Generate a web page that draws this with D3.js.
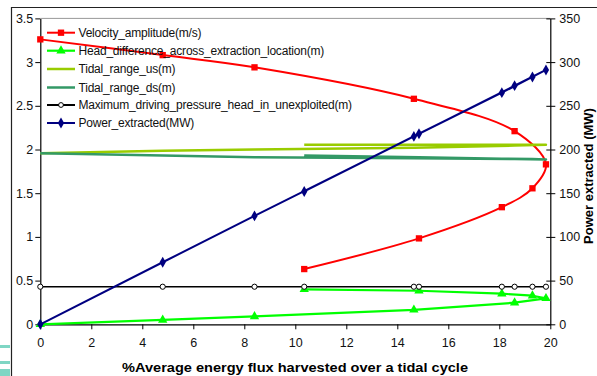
<!DOCTYPE html>
<html><head><meta charset="utf-8">
<script src="https://cdn.jsdelivr.net/npm/d3@7/dist/d3.min.js"></script>
<style>
body{margin:0;background:#fff;}
svg{display:block;font-family:"Liberation Sans",Arial,sans-serif;}
</style></head>
<body><svg id="c" width="597" height="376"></svg>
<script>
// ---- data (path order as plotted) ----
const fluxPct      = [0, 4.8, 8.4, 14.65, 18.6, 19.83, 19.3, 18.1, 14.85, 10.35];
const velocity     = [3.26, 3.08, 2.94, 2.58, 2.21, 1.83, 1.556, 1.34, 0.983, 0.632];
const headDiff     = [0, 0.05, 0.09, 0.165, 0.247, 0.297, 0.327, 0.35, 0.384, 0.40];
const tidalUs      = [1.956, 1.986, 2.0, 2.02, 2.045, 2.054, 2.054, 2.054, 2.054, 2.054];
const tidalDs      = [1.956, 1.93, 1.912, 1.90, 1.89, 1.887, 1.89, 1.895, 1.91, 1.93];
const maxHead      = [0.43, 0.43, 0.43, 0.43, 0.43, 0.43, 0.43, 0.43, 0.43, 0.43];
const power        = [0, 71, 124, 215, 273, 291, 283, 265, 218, 152];
const xTicks       = [0, 2, 4, 6, 8, 10, 12, 14, 16, 18, 20];
const yLeftTicks   = [0, 0.5, 1, 1.5, 2, 2.5, 3, 3.5];
const yRightTicks  = [0, 50, 100, 150, 200, 250, 300, 350];
const seriesNames  = ["Velocity_amplitude(m/s)", "Head_difference_across_extraction_location(m)",
  "Tidal_range_us(m)", "Tidal_range_ds(m)", "Maximum_driving_pressure_head_in_unexploited(m)", "Power_extracted(MW)"];
const xTitle = "%Average energy flux harvested over a tidal cycle";
const yRightTitle = "Power extracted (MW)";

const svg = d3.select("#c");
const L = 40.3, R = 550.3, T = 18.4, B = 324.3;
const x = d3.scaleLinear().domain([0, 20]).range([L, R]);
const yL = d3.scaleLinear().domain([0, 3.5]).range([B, T]);
const yR = d3.scaleLinear().domain([0, 350]).range([B, T]);

// outer frame & artifacts
svg.append("line").attr("x1", 11).attr("x2", 597).attr("y1", 7.5).attr("y2", 7.5).attr("stroke", "#222").attr("stroke-width", 1.2);
svg.append("line").attr("x1", 11.5).attr("x2", 11.5).attr("y1", 7).attr("y2", 376).attr("stroke", "#222").attr("stroke-width", 1.2);
[[345, 3], [361, 3], [369, 7]].forEach(([yy, h]) => {
  svg.append("rect").attr("x", 0).attr("y", yy).attr("width", 10).attr("height", h).attr("fill", "#7fd6c4");
});

// plot top border
svg.append("line").attr("x1", L).attr("x2", R).attr("y1", T).attr("y2", T).attr("stroke", "#999").attr("stroke-width", 1);

// axes
const fmt = d => String(d);
const gx = svg.append("g").attr("transform", `translate(0,${B})`)
  .call(d3.axisBottom(x).tickValues(xTicks).tickFormat(fmt).tickSize(5).tickSizeOuter(0));
const gl = svg.append("g").attr("transform", `translate(${L},0)`)
  .call(d3.axisLeft(yL).tickValues(yLeftTicks).tickFormat(fmt).tickSize(5).tickSizeOuter(0));
const gr = svg.append("g").attr("transform", `translate(${R},0)`)
  .call(d3.axisRight(yR).tickValues(yRightTicks).tickFormat(fmt).tickSize(5).tickSizeOuter(0));
gr.selectAll(".tick line").attr("x1", -4);
[gx, gl, gr].forEach(g => {
  g.select(".domain").attr("stroke", "#000").attr("stroke-width", 1.2);
  g.selectAll(".tick line").attr("stroke", "#000");
  g.selectAll(".tick text").attr("font-size", 12.5).attr("fill", "#111").attr("font-family", "Liberation Sans, Arial, sans-serif");
});
gx.selectAll(".tick text").attr("dy", "1.2em");
gl.selectAll(".tick text").attr("x", -7);
gr.selectAll(".tick text").attr("x", 9);

// titles
svg.append("text").attr("x", 295).attr("y", 372).attr("text-anchor", "middle")
  .attr("font-weight", "bold").attr("font-size", 13).attr("textLength", 346).attr("lengthAdjust", "spacingAndGlyphs")
  .text(xTitle);
svg.append("text").attr("transform", "translate(593,176) rotate(-90)").attr("text-anchor", "middle")
  .attr("font-weight", "bold").attr("font-size", 13).text(yRightTitle);

const idx = d3.range(fluxPct.length);
const clipT = svg.append("g");

function lineOf(vals, scale, curve) {
  return d3.line().x(i => x(fluxPct[i])).y(i => scale(vals[i])).curve(curve || d3.curveLinear)(idx);
}
const series = [
  {vals: velocity, s: yL, color: "#ff0000", w: 2, curve: d3.curveCatmullRom.alpha(0.5), marker: "square"},
  {vals: headDiff, s: yL, color: "#00ff00", w: 2.2, marker: "triangle"},
  {vals: tidalUs, s: yL, color: "#99cc00", w: 2.5, marker: null},
  {vals: tidalDs, s: yL, color: "#339966", w: 2.5, marker: null},
  {vals: maxHead, s: yL, color: "#000000", w: 1.6, marker: "circle"},
  {vals: power, s: yR, color: "#000080", w: 2, marker: "diamond"}
];
const sym = {square: d3.symbolSquare, triangle: d3.symbolTriangle, diamond: d3.symbolDiamond};
const symSize = {square: 40, triangle: 38, diamond: 34};

series.forEach(se => {
  svg.append("path").attr("d", lineOf(se.vals, se.s, se.curve))
    .attr("fill", "none").attr("stroke", se.color).attr("stroke-width", se.w).attr("stroke-linejoin", "round");
  if (!se.marker) return;
  idx.forEach(i => {
    const cx = x(fluxPct[i]), cy = se.s(se.vals[i]);
    if (se.marker === "circle") {
      svg.append("circle").attr("cx", cx).attr("cy", cy).attr("r", 2.6)
        .attr("fill", "#fff").attr("stroke", "#000").attr("stroke-width", 1);
    } else {
      svg.append("path").attr("transform", `translate(${cx},${cy})`)
        .attr("d", d3.symbol().type(sym[se.marker]).size(symSize[se.marker])())
        .attr("fill", se.color);
    }
  });
});

// legend
const lg = svg.append("g");
const rowY = [32.7, 50.7, 69, 87.5, 105, 123];
series.forEach((se, k) => {
  const yy = rowY[k];
  lg.append("line").attr("x1", 47).attr("x2", 75).attr("y1", yy).attr("y2", yy)
    .attr("stroke", se.color).attr("stroke-width", se.marker === "circle" ? 2 : se.w);
  if (se.marker === "circle") {
    lg.append("circle").attr("cx", 61).attr("cy", yy).attr("r", 2.4).attr("fill", "#fff").attr("stroke", "#000");
  } else if (se.marker) {
    lg.append("path").attr("transform", `translate(61,${yy})`)
      .attr("d", d3.symbol().type(sym[se.marker]).size(symSize[se.marker])()).attr("fill", se.color);
  }
  lg.append("text").attr("x", 78.5).attr("y", yy + 4.3).attr("font-size", 12).attr("fill", "#111")
    .attr("letter-spacing", -0.2).text(seriesNames[k]);
});
</script></body></html>
